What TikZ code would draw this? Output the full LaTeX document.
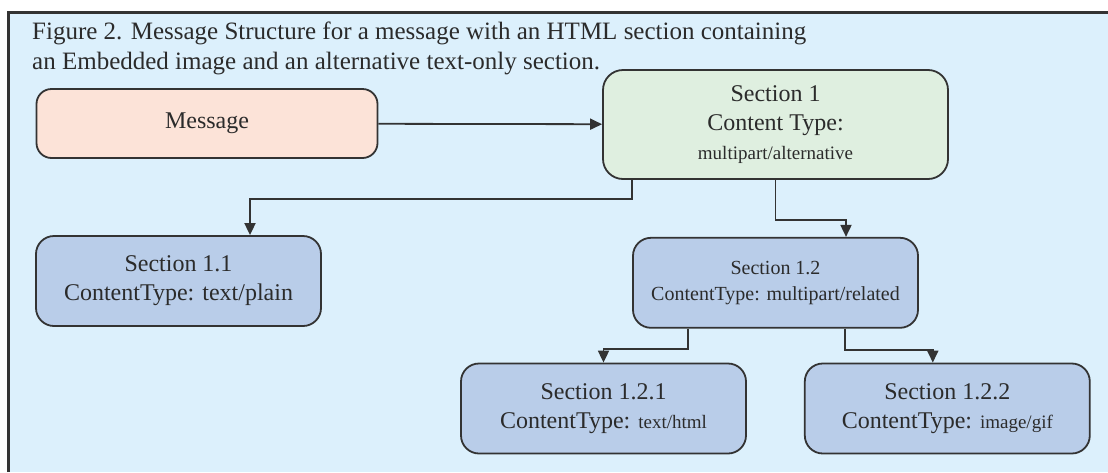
\documentclass[tikz,border=0pt]{standalone}
\usepackage{fontspec}
\setmainfont{Liberation Serif}
\usetikzlibrary{arrows.meta, positioning}
\definecolor{bgblue}{HTML}{DCF0FC}
\definecolor{peach}{HTML}{FCE3D8}
\definecolor{mintgreen}{HTML}{DFEFE0}
\definecolor{secblue}{HTML}{B9CDE9}
\definecolor{edge}{HTML}{333333}
\definecolor{ink}{HTML}{2B2B2B}
\tikzstyle{block}=[draw=edge,line width=1.8pt,fill=secblue,rectangle,rounded corners=18pt,minimum width=285pt,minimum height=90pt,align=center,inner sep=0pt]
\tikzstyle{every node}=[text=ink,font=\fontsize{24}{29}\selectfont]
\tikzstyle{link}=[->,edge,line width=1.8pt]
\newcommand{\mime}[1]{{\fontsize{19}{24}\selectfont #1}}

\begin{document}
\begin{tikzpicture}[x=1pt,y=-1pt,>={Triangle[length=12pt,width=11pt]}]
  \useasboundingbox (0,0) rectangle (1108,472);
  \fill[white] (0,0) rectangle (1108,472);
  \fill[bgblue] (8,12) rectangle (1108,472);
  \draw[edge,line width=3pt] (8,472) -- (8,12) -- (1108,12);
  \node[anchor=north west,align=left,inner sep=0pt,font=\fontsize{25}{30}\selectfont] (title) at (32,22)
    {Figure 2. Message Structure for a message with an HTML section containing\\an Embedded image and an alternative text-only section.};
  \node[block,fill=peach,minimum width=341pt,minimum height=69pt,rounded corners=15pt] (msg) at (207,123.5) {Message};
  \node[block,fill=mintgreen,minimum width=345pt,minimum height=109pt,rounded corners=20pt] (s1) at (775.5,124.5)
    {Section 1\\Content Type:\\\mime{multipart/alternative}};
  \node[block] (s11) at (178.5,281) {Section 1.1\\ContentType: text/plain};
  \node[block,below=57pt of s1,font=\fontsize{20}{26}\selectfont] (s12) {Section 1.2\\ContentType: multipart/related};
  \node[block] (s121) at (603.5,408.5) {Section 1.2.1\\ContentType: \mime{text/html}};
  \node[block,right=57pt of s121] (s122) {Section 1.2.2\\ContentType: \mime{image/gif}};
  \draw[link] (msg) -- (s1);
  \draw[link] ([xshift=30pt]s1.south west) -- ++(0,19) -| ([xshift=71.5pt]s11.north);
  \draw[link] (s1.south) -- ++(0,40) -| ([xshift=70.5pt]s12.north);
  \draw[link] ([xshift=-87.5pt]s12.south) -- ++(0,20) -| (s121.north);
  \draw[link] ([xshift=69.5pt]s12.south) -- ++(0,21) -| ([xshift=-14.5pt]s122.north);
\end{tikzpicture}
\end{document}
